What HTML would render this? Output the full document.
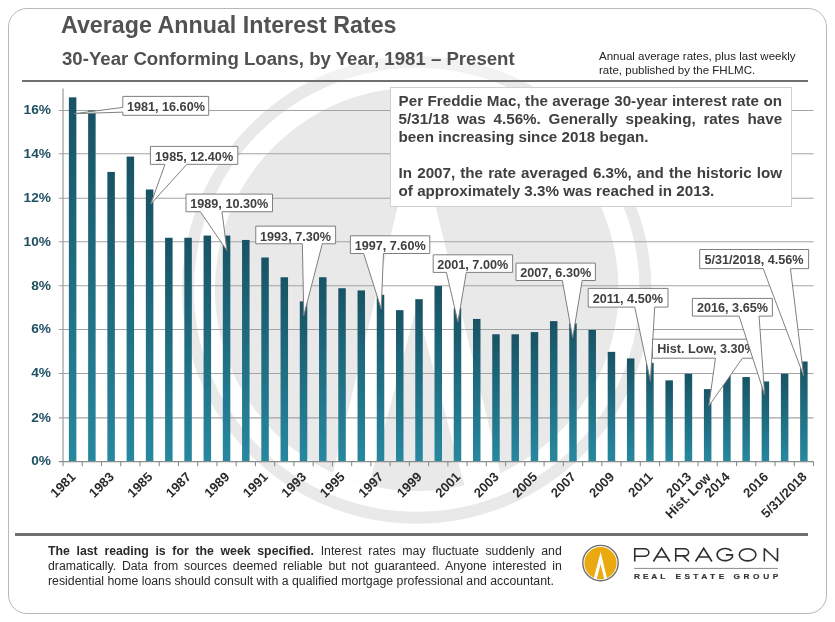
<!DOCTYPE html>
<html><head><meta charset="utf-8"><title>Average Annual Interest Rates</title>
<style>
html,body{margin:0;padding:0;background:#fff}
body{width:835px;height:622px;position:relative;overflow:hidden;font-family:"Liberation Sans",sans-serif}
body>*{will-change:transform}
svg text{font-family:"Liberation Sans",sans-serif}
.frame{position:absolute;left:8px;top:7.8px;width:817.2px;height:604px;border:1.2px solid #b8b8b8;border-radius:19px;box-sizing:content-box}
.t1{position:absolute;left:61px;top:9.5px;font-size:23.25px;font-weight:bold;color:#525252;white-space:nowrap;line-height:30px}
.t2{position:absolute;left:61.5px;top:47.3px;font-size:18.61px;font-weight:bold;color:#505050;white-space:nowrap;line-height:24px}
.note{position:absolute;left:599px;top:48.7px;font-size:11.53px;color:#222;white-space:nowrap;line-height:14.3px}
.rule{position:absolute;left:22px;width:785.5px;height:2px;background:#707070}
.box{position:absolute;left:390px;top:87px;width:400.2px;height:117.6px;border:1px solid #d0d0d0;background:#fff;box-sizing:content-box}
.box p{position:absolute;left:7.6px;width:383.5px;margin:0;font-size:15.2px;font-weight:bold;color:#404040;line-height:18.05px;text-align:justify}
.foot{position:absolute;left:48.2px;top:543.7px;width:513.8px;font-size:12.3px;color:#2a2a2a;line-height:15.2px;text-align:justify}
</style></head><body>
<div class="frame"></div>
<svg width="835" height="622" viewBox="0 0 835 622" style="position:absolute;left:0;top:0">
<defs><linearGradient id="bg" x1="0" y1="0" x2="0" y2="1"><stop offset="0" stop-color="#185364"/><stop offset="1" stop-color="#27889f"/></linearGradient>
<clipPath id="dc"><circle cx="416.7" cy="289.2" r="201.8"/></clipPath></defs>
<ellipse cx="416.7" cy="289.8" rx="228.8" ry="227.95" fill="none" stroke="#e9e9e9" stroke-width="11.9"/><rect x="150" y="40" width="540" height="40" fill="#fff" fill-opacity="0.4"/>
<circle cx="416.7" cy="289.2" r="201.8" fill="#e9e9e9"/>
<g clip-path="url(#dc)"><polygon points="416.7,128.4 319.5,528.4 513.9,528.4" fill="#fff"/>
<polygon points="416.7,306 363.59999999999997,506 469.8,506" fill="#e9e9e9"/></g>
<line x1="58.8" y1="417.85" x2="813.5" y2="417.85" stroke="#a3a3a3" stroke-width="1.1"/>
<line x1="58.8" y1="373.50" x2="813.5" y2="373.50" stroke="#a3a3a3" stroke-width="1.1"/>
<line x1="58.8" y1="329.50" x2="813.5" y2="329.50" stroke="#a3a3a3" stroke-width="1.1"/>
<line x1="58.8" y1="285.70" x2="813.5" y2="285.70" stroke="#a3a3a3" stroke-width="1.1"/>
<line x1="58.8" y1="241.80" x2="813.5" y2="241.80" stroke="#a3a3a3" stroke-width="1.1"/>
<line x1="58.8" y1="198.25" x2="813.5" y2="198.25" stroke="#a3a3a3" stroke-width="1.1"/>
<line x1="58.8" y1="153.80" x2="813.5" y2="153.80" stroke="#a3a3a3" stroke-width="1.1"/>
<line x1="58.8" y1="110.50" x2="813.5" y2="110.50" stroke="#a3a3a3" stroke-width="1.1"/>
<rect x="68.87" y="97.34" width="7.5" height="364.21" fill="url(#bg)"/>
<rect x="88.12" y="110.50" width="7.5" height="351.05" fill="url(#bg)"/>
<rect x="107.36" y="171.93" width="7.5" height="289.62" fill="url(#bg)"/>
<rect x="126.60" y="156.58" width="7.5" height="304.97" fill="url(#bg)"/>
<rect x="145.85" y="189.49" width="7.5" height="272.06" fill="url(#bg)"/>
<rect x="165.09" y="237.76" width="7.5" height="223.79" fill="url(#bg)"/>
<rect x="184.33" y="237.76" width="7.5" height="223.79" fill="url(#bg)"/>
<rect x="203.58" y="235.56" width="7.5" height="225.99" fill="url(#bg)"/>
<rect x="222.82" y="235.56" width="7.5" height="225.99" fill="url(#bg)"/>
<rect x="242.06" y="239.95" width="7.5" height="221.60" fill="url(#bg)"/>
<rect x="261.31" y="257.50" width="7.5" height="204.05" fill="url(#bg)"/>
<rect x="280.55" y="277.25" width="7.5" height="184.30" fill="url(#bg)"/>
<rect x="299.79" y="301.38" width="7.5" height="160.17" fill="url(#bg)"/>
<rect x="319.04" y="277.25" width="7.5" height="184.30" fill="url(#bg)"/>
<rect x="338.28" y="288.22" width="7.5" height="173.33" fill="url(#bg)"/>
<rect x="357.53" y="290.41" width="7.5" height="171.14" fill="url(#bg)"/>
<rect x="376.77" y="294.80" width="7.5" height="166.75" fill="url(#bg)"/>
<rect x="396.01" y="310.16" width="7.5" height="151.39" fill="url(#bg)"/>
<rect x="415.26" y="299.19" width="7.5" height="162.36" fill="url(#bg)"/>
<rect x="434.50" y="286.02" width="7.5" height="175.53" fill="url(#bg)"/>
<rect x="453.74" y="307.97" width="7.5" height="153.58" fill="url(#bg)"/>
<rect x="472.99" y="318.94" width="7.5" height="142.61" fill="url(#bg)"/>
<rect x="492.23" y="334.29" width="7.5" height="127.26" fill="url(#bg)"/>
<rect x="511.47" y="334.29" width="7.5" height="127.26" fill="url(#bg)"/>
<rect x="530.72" y="332.10" width="7.5" height="129.45" fill="url(#bg)"/>
<rect x="549.96" y="321.13" width="7.5" height="140.42" fill="url(#bg)"/>
<rect x="569.21" y="323.32" width="7.5" height="138.23" fill="url(#bg)"/>
<rect x="588.45" y="329.91" width="7.5" height="131.64" fill="url(#bg)"/>
<rect x="607.69" y="351.85" width="7.5" height="109.70" fill="url(#bg)"/>
<rect x="626.94" y="358.43" width="7.5" height="103.12" fill="url(#bg)"/>
<rect x="646.18" y="362.82" width="7.5" height="98.73" fill="url(#bg)"/>
<rect x="665.42" y="380.37" width="7.5" height="81.18" fill="url(#bg)"/>
<rect x="684.67" y="373.79" width="7.5" height="87.76" fill="url(#bg)"/>
<rect x="703.91" y="389.15" width="7.5" height="72.40" fill="url(#bg)"/>
<rect x="723.15" y="370.06" width="7.5" height="91.49" fill="url(#bg)"/>
<rect x="742.40" y="377.08" width="7.5" height="84.47" fill="url(#bg)"/>
<rect x="761.64" y="381.47" width="7.5" height="80.08" fill="url(#bg)"/>
<rect x="780.88" y="373.79" width="7.5" height="87.76" fill="url(#bg)"/>
<rect x="800.13" y="361.50" width="7.5" height="100.05" fill="url(#bg)"/>
<line x1="63.0" y1="88.4" x2="63.0" y2="461.55" stroke="#9c9c9c" stroke-width="1.2"/>
<line x1="58.8" y1="461.55" x2="813.5" y2="461.55" stroke="#8c8c8c" stroke-width="1.3"/>
<line x1="63.00" y1="461.55" x2="63.00" y2="466.15000000000003" stroke="#8c8c8c" stroke-width="1.1"/>
<line x1="82.24" y1="461.55" x2="82.24" y2="466.15000000000003" stroke="#8c8c8c" stroke-width="1.1"/>
<line x1="101.49" y1="461.55" x2="101.49" y2="466.15000000000003" stroke="#8c8c8c" stroke-width="1.1"/>
<line x1="120.73" y1="461.55" x2="120.73" y2="466.15000000000003" stroke="#8c8c8c" stroke-width="1.1"/>
<line x1="139.97" y1="461.55" x2="139.97" y2="466.15000000000003" stroke="#8c8c8c" stroke-width="1.1"/>
<line x1="159.22" y1="461.55" x2="159.22" y2="466.15000000000003" stroke="#8c8c8c" stroke-width="1.1"/>
<line x1="178.46" y1="461.55" x2="178.46" y2="466.15000000000003" stroke="#8c8c8c" stroke-width="1.1"/>
<line x1="197.71" y1="461.55" x2="197.71" y2="466.15000000000003" stroke="#8c8c8c" stroke-width="1.1"/>
<line x1="216.95" y1="461.55" x2="216.95" y2="466.15000000000003" stroke="#8c8c8c" stroke-width="1.1"/>
<line x1="236.19" y1="461.55" x2="236.19" y2="466.15000000000003" stroke="#8c8c8c" stroke-width="1.1"/>
<line x1="255.44" y1="461.55" x2="255.44" y2="466.15000000000003" stroke="#8c8c8c" stroke-width="1.1"/>
<line x1="274.68" y1="461.55" x2="274.68" y2="466.15000000000003" stroke="#8c8c8c" stroke-width="1.1"/>
<line x1="293.92" y1="461.55" x2="293.92" y2="466.15000000000003" stroke="#8c8c8c" stroke-width="1.1"/>
<line x1="313.17" y1="461.55" x2="313.17" y2="466.15000000000003" stroke="#8c8c8c" stroke-width="1.1"/>
<line x1="332.41" y1="461.55" x2="332.41" y2="466.15000000000003" stroke="#8c8c8c" stroke-width="1.1"/>
<line x1="351.65" y1="461.55" x2="351.65" y2="466.15000000000003" stroke="#8c8c8c" stroke-width="1.1"/>
<line x1="370.90" y1="461.55" x2="370.90" y2="466.15000000000003" stroke="#8c8c8c" stroke-width="1.1"/>
<line x1="390.14" y1="461.55" x2="390.14" y2="466.15000000000003" stroke="#8c8c8c" stroke-width="1.1"/>
<line x1="409.38" y1="461.55" x2="409.38" y2="466.15000000000003" stroke="#8c8c8c" stroke-width="1.1"/>
<line x1="428.63" y1="461.55" x2="428.63" y2="466.15000000000003" stroke="#8c8c8c" stroke-width="1.1"/>
<line x1="447.87" y1="461.55" x2="447.87" y2="466.15000000000003" stroke="#8c8c8c" stroke-width="1.1"/>
<line x1="467.12" y1="461.55" x2="467.12" y2="466.15000000000003" stroke="#8c8c8c" stroke-width="1.1"/>
<line x1="486.36" y1="461.55" x2="486.36" y2="466.15000000000003" stroke="#8c8c8c" stroke-width="1.1"/>
<line x1="505.60" y1="461.55" x2="505.60" y2="466.15000000000003" stroke="#8c8c8c" stroke-width="1.1"/>
<line x1="524.85" y1="461.55" x2="524.85" y2="466.15000000000003" stroke="#8c8c8c" stroke-width="1.1"/>
<line x1="544.09" y1="461.55" x2="544.09" y2="466.15000000000003" stroke="#8c8c8c" stroke-width="1.1"/>
<line x1="563.33" y1="461.55" x2="563.33" y2="466.15000000000003" stroke="#8c8c8c" stroke-width="1.1"/>
<line x1="582.58" y1="461.55" x2="582.58" y2="466.15000000000003" stroke="#8c8c8c" stroke-width="1.1"/>
<line x1="601.82" y1="461.55" x2="601.82" y2="466.15000000000003" stroke="#8c8c8c" stroke-width="1.1"/>
<line x1="621.06" y1="461.55" x2="621.06" y2="466.15000000000003" stroke="#8c8c8c" stroke-width="1.1"/>
<line x1="640.31" y1="461.55" x2="640.31" y2="466.15000000000003" stroke="#8c8c8c" stroke-width="1.1"/>
<line x1="659.55" y1="461.55" x2="659.55" y2="466.15000000000003" stroke="#8c8c8c" stroke-width="1.1"/>
<line x1="678.79" y1="461.55" x2="678.79" y2="466.15000000000003" stroke="#8c8c8c" stroke-width="1.1"/>
<line x1="698.04" y1="461.55" x2="698.04" y2="466.15000000000003" stroke="#8c8c8c" stroke-width="1.1"/>
<line x1="717.28" y1="461.55" x2="717.28" y2="466.15000000000003" stroke="#8c8c8c" stroke-width="1.1"/>
<line x1="736.53" y1="461.55" x2="736.53" y2="466.15000000000003" stroke="#8c8c8c" stroke-width="1.1"/>
<line x1="755.77" y1="461.55" x2="755.77" y2="466.15000000000003" stroke="#8c8c8c" stroke-width="1.1"/>
<line x1="775.01" y1="461.55" x2="775.01" y2="466.15000000000003" stroke="#8c8c8c" stroke-width="1.1"/>
<line x1="794.26" y1="461.55" x2="794.26" y2="466.15000000000003" stroke="#8c8c8c" stroke-width="1.1"/>
<line x1="813.50" y1="461.55" x2="813.50" y2="466.15000000000003" stroke="#8c8c8c" stroke-width="1.1"/>
<text x="51" y="465.45" text-anchor="end" font-size="13.7" font-weight="bold" fill="#1f5062">0%</text>
<text x="51" y="421.75" text-anchor="end" font-size="13.7" font-weight="bold" fill="#1f5062">2%</text>
<text x="51" y="377.40" text-anchor="end" font-size="13.7" font-weight="bold" fill="#1f5062">4%</text>
<text x="51" y="333.40" text-anchor="end" font-size="13.7" font-weight="bold" fill="#1f5062">6%</text>
<text x="51" y="289.60" text-anchor="end" font-size="13.7" font-weight="bold" fill="#1f5062">8%</text>
<text x="51" y="245.70" text-anchor="end" font-size="13.7" font-weight="bold" fill="#1f5062">10%</text>
<text x="51" y="202.15" text-anchor="end" font-size="13.7" font-weight="bold" fill="#1f5062">12%</text>
<text x="51" y="157.70" text-anchor="end" font-size="13.7" font-weight="bold" fill="#1f5062">14%</text>
<text x="51" y="114.40" text-anchor="end" font-size="13.7" font-weight="bold" fill="#1f5062">16%</text>
<text transform="translate(76.32,477.7) rotate(-45)" text-anchor="end" font-size="13.05" font-weight="bold" fill="#2b2b2b">1981</text>
<text transform="translate(114.81,477.7) rotate(-45)" text-anchor="end" font-size="13.05" font-weight="bold" fill="#2b2b2b">1983</text>
<text transform="translate(153.30,477.7) rotate(-45)" text-anchor="end" font-size="13.05" font-weight="bold" fill="#2b2b2b">1985</text>
<text transform="translate(191.78,477.7) rotate(-45)" text-anchor="end" font-size="13.05" font-weight="bold" fill="#2b2b2b">1987</text>
<text transform="translate(230.27,477.7) rotate(-45)" text-anchor="end" font-size="13.05" font-weight="bold" fill="#2b2b2b">1989</text>
<text transform="translate(268.76,477.7) rotate(-45)" text-anchor="end" font-size="13.05" font-weight="bold" fill="#2b2b2b">1991</text>
<text transform="translate(307.24,477.7) rotate(-45)" text-anchor="end" font-size="13.05" font-weight="bold" fill="#2b2b2b">1993</text>
<text transform="translate(345.73,477.7) rotate(-45)" text-anchor="end" font-size="13.05" font-weight="bold" fill="#2b2b2b">1995</text>
<text transform="translate(384.22,477.7) rotate(-45)" text-anchor="end" font-size="13.05" font-weight="bold" fill="#2b2b2b">1997</text>
<text transform="translate(422.71,477.7) rotate(-45)" text-anchor="end" font-size="13.05" font-weight="bold" fill="#2b2b2b">1999</text>
<text transform="translate(461.19,477.7) rotate(-45)" text-anchor="end" font-size="13.05" font-weight="bold" fill="#2b2b2b">2001</text>
<text transform="translate(499.68,477.7) rotate(-45)" text-anchor="end" font-size="13.05" font-weight="bold" fill="#2b2b2b">2003</text>
<text transform="translate(538.17,477.7) rotate(-45)" text-anchor="end" font-size="13.05" font-weight="bold" fill="#2b2b2b">2005</text>
<text transform="translate(576.66,477.7) rotate(-45)" text-anchor="end" font-size="13.05" font-weight="bold" fill="#2b2b2b">2007</text>
<text transform="translate(615.14,477.7) rotate(-45)" text-anchor="end" font-size="13.05" font-weight="bold" fill="#2b2b2b">2009</text>
<text transform="translate(653.63,477.7) rotate(-45)" text-anchor="end" font-size="13.05" font-weight="bold" fill="#2b2b2b">2011</text>
<text transform="translate(692.12,477.7) rotate(-45)" text-anchor="end" font-size="13.05" font-weight="bold" fill="#2b2b2b">2013</text>
<text transform="translate(711.66,478.2) rotate(-45)" text-anchor="end" font-size="13.05" font-weight="bold" fill="#2b2b2b">Hist. Low</text>
<text transform="translate(730.60,477.7) rotate(-45)" text-anchor="end" font-size="13.05" font-weight="bold" fill="#2b2b2b">2014</text>
<text transform="translate(769.09,477.7) rotate(-45)" text-anchor="end" font-size="13.05" font-weight="bold" fill="#2b2b2b">2016</text>
<text transform="translate(807.58,477.7) rotate(-45)" text-anchor="end" font-size="13.05" font-weight="bold" fill="#2b2b2b">5/31/2018</text>
<path d="M122.8,96.4 H208.7 V115.3 H122.8 V112.15 L74.1,113.7 L122.8,107.42 Z" fill="#fff" stroke="#7f7f7f" stroke-width="1"/>
<text transform="translate(165.90,110.75) scale(1,1.07)" text-anchor="middle" font-size="12.65" font-weight="bold" fill="#404040">1981, 16.60%</text>
<path d="M150.4,146.4 H237.8 V164.35 H186.82 L150.8,204 L164.97,164.35 H150.4 Z" fill="#fff" stroke="#7f7f7f" stroke-width="1"/>
<text transform="translate(194.10,160.50) scale(1,1.07)" text-anchor="middle" font-size="12.65" font-weight="bold" fill="#404040">1985, 12.40%</text>
<path d="M186.0,194.1 H272.5 V211.75 H222.04 L226.9,250.6 L200.42,211.75 H186.0 Z" fill="#fff" stroke="#7f7f7f" stroke-width="1"/>
<text transform="translate(229.25,207.80) scale(1,1.07)" text-anchor="middle" font-size="12.65" font-weight="bold" fill="#404040">1989, 10.30%</text>
<path d="M255.75,226.15 H335.6 V243.75 H322.29 L303.8,315.5 L302.33,243.75 H255.75 Z" fill="#fff" stroke="#7f7f7f" stroke-width="1"/>
<text transform="translate(295.50,240.50) scale(1,1.07)" text-anchor="middle" font-size="12.65" font-weight="bold" fill="#404040">1993, 7.30%</text>
<path d="M350.4,235.8 H429.8 V253.5 H383.48 L381.2,309 L363.63,253.5 H350.4 Z" fill="#fff" stroke="#7f7f7f" stroke-width="1"/>
<text transform="translate(390.15,249.55) scale(1,1.07)" text-anchor="middle" font-size="12.65" font-weight="bold" fill="#404040">1997, 7.60%</text>
<path d="M433.2,254.8 H512.6 V272.4 H466.28 L457.9,322 L446.43,272.4 H433.2 Z" fill="#fff" stroke="#7f7f7f" stroke-width="1"/>
<text transform="translate(472.70,269.15) scale(1,1.07)" text-anchor="middle" font-size="12.65" font-weight="bold" fill="#404040">2001, 7.00%</text>
<path d="M516.0,263.1 H595.4 V280.5 H582.17 L572.7,337.7 L562.32,280.5 H516.0 Z" fill="#fff" stroke="#7f7f7f" stroke-width="1"/>
<text transform="translate(555.70,277.15) scale(1,1.07)" text-anchor="middle" font-size="12.65" font-weight="bold" fill="#404040">2007, 6.30%</text>
<path d="M588.2,288.4 H668.0 V307.1 H654.70 L650.4,381.3 L634.75,307.1 H588.2 Z" fill="#fff" stroke="#7f7f7f" stroke-width="1"/>
<text transform="translate(627.80,302.80) scale(1,1.07)" text-anchor="middle" font-size="12.65" font-weight="bold" fill="#404040">2011, 4.50%</text>
<path d="M652.5,339.2 H760.4 V358.2 H742.42 L708.8,406 L715.44,358.2 H652.5 Z" fill="#fff" stroke="#7f7f7f" stroke-width="1"/>
<text transform="translate(706.45,353.25) scale(1,1.07)" text-anchor="middle" font-size="12.65" font-weight="bold" fill="#404040">Hist. Low, 3.30%</text>
<path d="M692.4,298.4 H772.4 V316.1 H759.07 L764.7,395 L739.07,316.1 H692.4 Z" fill="#fff" stroke="#7f7f7f" stroke-width="1"/>
<text transform="translate(732.45,311.56) scale(1,1.07)" text-anchor="middle" font-size="12.65" font-weight="bold" fill="#404040">2016, 3.65%</text>
<path d="M699.7,249.5 H808.6 V268.65 H790.45 L803.7,376 L763.23,268.65 H699.7 Z" fill="#fff" stroke="#7f7f7f" stroke-width="1"/>
<text transform="translate(754.00,264.15) scale(1,1.07)" text-anchor="middle" font-size="12.65" font-weight="bold" fill="#404040">5/31/2018, 4.56%</text>
</svg>
<div class="t1">Average Annual Interest Rates</div>
<div class="t2">30-Year Conforming Loans, by Year, 1981 &ndash; Present</div>
<div class="note">Annual average rates, plus last weekly<br>rate, published by the FHLMC.</div>
<div class="rule" style="top:80px"></div>
<div class="rule" style="top:532.6px;left:14.7px;width:792.8px;height:2.6px"></div>
<div class="box"><p style="top:4.0px">Per Freddie Mac, the average 30-year interest rate on 5/31/18 was 4.56%. Generally speaking, rates have been increasing since 2018 began.</p><p style="top:75.7px">In 2007, the rate averaged 6.3%, and the historic low of approximately 3.3% was reached in 2013.</p></div>
<div class="foot"><b>The last reading is for the week specified.</b> Interest rates may fluctuate suddenly and dramatically. Data from sources deemed reliable but not guaranteed. Anyone interested in residential home loans should consult with a qualified mortgage professional and accountant.</div>
<svg width="835" height="622" viewBox="0 0 835 622" style="position:absolute;left:0;top:0">
<circle cx="600.5" cy="563.1" r="17.7" fill="#fffdf5" stroke="#6e6e6e" stroke-width="1.4"/>
<circle cx="600.5" cy="563.1" r="16.1" fill="#e9a90f"/>
<clipPath id="lc"><circle cx="600.5" cy="563.1" r="16.6"/></clipPath>
<g clip-path="url(#lc)"><path d="M600.6,552.1 L593.3,580 L596.6,580 L600.6,564.1 L604.4,580 L607.4,580 Z" fill="#fff"/></g>
<path transform="translate(634,548.0) scale(1,0.972)" d="M0.75,13.9 V0.72 H10.4 A4.45,3.85 0 0 1 10.4,8.42 H0.75" fill="none" stroke="#2e2e2e" stroke-width="1.6" stroke-linejoin="miter"/>
<path transform="translate(653,548.0) scale(1,0.972)" d="M0.4,13.9 L8.6,0.3 L16.8,13.9 M3.2,9.3 H14.0" fill="none" stroke="#2e2e2e" stroke-width="1.6" stroke-linejoin="miter"/>
<path transform="translate(675,548.0) scale(1,0.972)" d="M0.75,13.9 V0.72 H9.3 A4.3,3.7 0 0 1 9.3,8.12 H0.75 M8.2,8.12 L13.9,13.9" fill="none" stroke="#2e2e2e" stroke-width="1.6" stroke-linejoin="miter"/>
<path transform="translate(695.1,548.0) scale(1,0.972)" d="M0.4,13.9 L8.6,0.3 L16.8,13.9 M3.2,9.3 H14.0" fill="none" stroke="#2e2e2e" stroke-width="1.6" stroke-linejoin="miter"/>
<path transform="translate(716.3,548.0) scale(1,0.972)" d="M15.3,3.1 A8.0,6.25 0 1 0 16.1,9.3 V7.1 H9.6" fill="none" stroke="#2e2e2e" stroke-width="1.6" stroke-linejoin="miter"/>
<path transform="translate(738.6,548.0) scale(1,0.972)" d="M9.0,0.72 A8.3,6.25 0 1 0 9.0,13.22 A8.3,6.25 0 1 0 9.0,0.72 Z" fill="none" stroke="#2e2e2e" stroke-width="1.6" stroke-linejoin="miter"/>
<path transform="translate(763.6,548.0) scale(1,0.972)" d="M0.75,13.9 V0.2 M0.75,0.5 L13.9,13.4 M13.9,13.9 V0" fill="none" stroke="#2e2e2e" stroke-width="1.6" stroke-linejoin="miter"/>
<line x1="634.2" y1="568.4" x2="778" y2="568.4" stroke="#8a8a8a" stroke-width="1"/>
<text transform="translate(634,578.7) scale(1.3,1)" font-size="6.4" font-weight="bold" fill="#333" stroke="#333" stroke-width="0.15" textLength="24.08" lengthAdjust="spacing">REAL</text>
<text transform="translate(675.4,578.7) scale(1.3,1)" font-size="6.4" font-weight="bold" fill="#333" stroke="#333" stroke-width="0.15" textLength="37.54" lengthAdjust="spacing">ESTATE</text>
<text transform="translate(733.4,578.7) scale(1.3,1)" font-size="6.4" font-weight="bold" fill="#333" stroke="#333" stroke-width="0.15" textLength="34.54" lengthAdjust="spacing">GROUP</text>
</svg>
</body></html>
